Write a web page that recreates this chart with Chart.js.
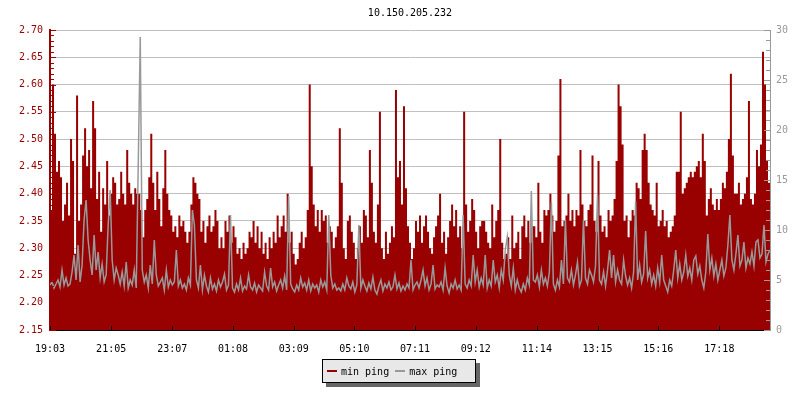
<!DOCTYPE html>
<html>
<head>
<meta charset="utf-8">
<script src="https://cdn.jsdelivr.net/npm/chart.js@4"></script>
<style>
    body { margin: 0; background: #fff; }
    #wrap { position: relative; width: 800px; height: 400px; }
    .legend {
        position: absolute; left: 322px; top: 359px; width: 154px; height: 24px;
        box-sizing: border-box; border: 1px solid #000; background: #e8e8e8;
        box-shadow: 4px 4px 0 #666;
        display: flex; align-items: center; padding-left: 4px;
        font: 10px 'DejaVu Sans Mono', monospace; color: #000; white-space: nowrap;
    }
    .legend i { display: inline-block; width: 10px; height: 2px; margin-right: 4px; }
</style>
</head>
<body>
<div id="wrap">
    <canvas id="chart" width="800" height="400"></canvas>
    <div class="legend"><i style="background:#990000"></i><span>min ping</span><i style="background:#999999;margin-left:6px"></i><span>max ping</span></div>
</div>
<script>
const titleText = '10.150.205.232';
const tickMinutes = [0, 122, 244, 365, 486, 607, 728, 849, 971, 1092, 1213, 1335];
const tickLabels = ['19:03', '21:05', '23:07', '01:08', '03:09', '05:10', '07:11', '09:12', '11:14', '13:15', '15:16', '17:18'];
const sampleMinutes = 4; // one sample every 4 minutes, 19:03 -> 18:59

// min ping (ms), left axis
const minPing = [
    2.37, 2.60, 2.51, 2.44, 2.46, 2.43, 2.35, 2.38, 2.42, 2.36,
    2.50, 2.46, 2.29, 2.58, 2.35, 2.38, 2.47, 2.52, 2.45, 2.48,
    2.41, 2.57, 2.52, 2.39, 2.44, 2.33, 2.41, 2.38, 2.46, 2.36,
    2.40, 2.43, 2.42, 2.38, 2.39, 2.44, 2.40, 2.38, 2.48, 2.42,
    2.40, 2.38, 2.41, 2.40, 2.40, 2.37, 2.32, 2.37, 2.39, 2.43,
    2.51, 2.42, 2.37, 2.44, 2.39, 2.34, 2.41, 2.48, 2.40, 2.37,
    2.36, 2.33, 2.34, 2.32, 2.36, 2.34, 2.35, 2.33, 2.31, 2.33,
    2.38, 2.43,
    2.42, 2.40, 2.39, 2.33, 2.35, 2.31, 2.34, 2.36, 2.33, 2.34,
    2.37, 2.35, 2.30, 2.32, 2.30, 2.35, 2.33, 2.36, 2.31, 2.34,
    2.32, 2.29, 2.30, 2.28, 2.31, 2.29, 2.30, 2.33, 2.32, 2.35,
    2.31, 2.34, 2.30, 2.33, 2.29, 2.31, 2.28, 2.32, 2.30, 2.33,
    2.31, 2.36, 2.32, 2.34, 2.36, 2.33, 2.40, 2.31, 2.33, 2.29,
    2.27, 2.28, 2.31, 2.33, 2.30, 2.32, 2.37, 2.60, 2.45, 2.38,
    2.34, 2.37, 2.33, 2.37, 2.35, 2.36, 2.31, 2.34, 2.33, 2.30,
    2.32, 2.34,
    2.52, 2.42, 2.30, 2.28, 2.35, 2.36, 2.33, 2.31, 2.28, 2.30,
    2.34, 2.31, 2.37, 2.36, 2.32, 2.48, 2.42, 2.33, 2.31, 2.38,
    2.55, 2.30, 2.28, 2.33, 2.29, 2.31, 2.34, 2.32, 2.59, 2.43,
    2.46, 2.38, 2.56, 2.41, 2.34, 2.31, 2.28, 2.30, 2.35, 2.33,
    2.36, 2.31, 2.34, 2.36, 2.33, 2.30, 2.29, 2.32, 2.34, 2.36,
    2.40, 2.31, 2.33, 2.29, 2.32, 2.35, 2.38, 2.34, 2.37, 2.32,
    2.34, 2.30, 2.55, 2.38, 2.33, 2.35, 2.39, 2.37, 2.33, 2.30,
    2.34, 2.35,
    2.35, 2.33, 2.31, 2.30, 2.38, 2.32, 2.35, 2.37, 2.50, 2.31,
    2.28, 2.29, 2.32, 2.28, 2.36, 2.30, 2.31, 2.33, 2.28, 2.34,
    2.36, 2.32, 2.35, 2.31, 2.34, 2.34, 2.32, 2.42, 2.33, 2.31,
    2.37, 2.36, 2.37, 2.40, 2.36, 2.33, 2.35, 2.47, 2.61, 2.34,
    2.35, 2.36, 2.40, 2.35, 2.37, 2.34, 2.37, 2.36, 2.48, 2.38,
    2.35, 2.34, 2.37, 2.38, 2.47, 2.35, 2.33, 2.46, 2.36, 2.33,
    2.34, 2.32, 2.37, 2.35, 2.36, 2.39, 2.46, 2.60, 2.56, 2.49,
    2.35, 2.36,
    2.32, 2.35, 2.37, 2.36, 2.42, 2.41, 2.39, 2.48, 2.51, 2.48,
    2.42, 2.38, 2.37, 2.36, 2.42, 2.34, 2.35, 2.37, 2.34, 2.35,
    2.32, 2.33, 2.34, 2.36, 2.44, 2.44, 2.55, 2.40, 2.41, 2.42,
    2.43, 2.44, 2.43, 2.44, 2.45, 2.46, 2.43, 2.51, 2.46, 2.36,
    2.39, 2.41, 2.38, 2.37, 2.39, 2.37, 2.39, 2.42, 2.41, 2.44,
    2.50, 2.62, 2.47, 2.40, 2.40, 2.42, 2.38, 2.39, 2.40, 2.43,
    2.57, 2.39, 2.38, 2.40, 2.48, 2.45, 2.49, 2.66, 2.60, 2.46,
    2.42, 2.47
];

// max ping (ms), right axis
const maxPing = [
    4.5, 4.8, 4.2, 4.6, 5.0, 4.3, 6.0, 4.5, 5.2, 4.4,
    4.6, 5.8, 7.5, 5.0, 8.5, 4.8, 6.5, 11.0, 13.0, 9.0,
    7.0, 5.5, 9.5, 6.0, 7.8, 5.2, 6.6, 4.8, 5.5, 10.5,
    14.0, 7.0, 5.0, 6.2, 5.5, 4.6, 5.8, 4.4, 6.8, 4.2,
    5.0, 4.5, 6.0, 4.2, 16.5, 29.3, 6.0, 4.8, 5.5, 4.2,
    6.5, 4.6, 9.0, 5.5, 4.4, 4.8, 5.2, 4.0, 6.0, 4.3,
    5.0, 4.5, 4.8, 8.0, 4.4, 5.0, 4.2, 4.6, 4.0, 5.2,
    4.5, 12.0,
    10.5, 5.0, 4.2, 6.5, 4.0, 5.5, 4.4, 3.8, 5.2, 4.1,
    4.6, 3.9, 5.0, 4.3, 4.8, 5.6, 4.0, 4.5, 11.5, 4.2,
    3.8, 4.6, 4.0, 5.2, 3.9, 4.4, 4.1, 5.5, 4.3, 4.0,
    4.7, 3.8, 4.5, 4.2, 3.9, 5.8, 4.4, 4.0, 6.2, 4.3,
    4.8, 3.9, 4.5, 5.0, 4.2, 5.4, 4.0, 13.4, 4.6, 4.1,
    3.8, 4.5, 4.0, 5.2, 4.3, 4.7, 4.0, 5.0, 3.9, 4.6,
    4.2, 4.5, 3.8, 5.0, 4.3, 4.8, 4.0, 11.5, 5.5, 4.2,
    4.6, 4.0,
    4.2, 3.9, 4.6, 4.0, 5.2, 4.4, 4.1, 4.8, 3.8, 4.5,
    10.5, 4.2, 5.0, 4.4, 3.9, 4.7, 4.1, 5.3, 4.0, 3.6,
    4.4, 5.0, 3.9, 4.6, 4.2, 4.8, 4.0, 4.3, 5.5, 4.1,
    4.7, 3.9, 4.4, 4.0, 4.6, 4.2, 7.0, 4.0, 4.5, 4.8,
    4.2, 5.0, 6.0, 4.4, 5.2, 4.0, 4.6, 6.5, 4.1, 4.5,
    4.3, 4.8, 4.0, 6.2, 4.4, 3.7, 4.6, 4.2, 5.0, 4.1,
    4.5, 4.0, 11.5, 4.6, 4.2, 5.0, 4.4, 7.5, 4.8, 6.0,
    4.3, 5.2,
    4.5, 7.5, 4.2, 5.0, 4.4, 7.0, 4.8, 5.5, 4.2, 6.0,
    5.0, 8.0, 9.3, 5.5, 4.4, 6.2, 4.0, 5.0, 4.2, 3.8,
    4.6, 4.0, 5.2, 4.5, 13.9, 5.0, 4.8, 5.5, 4.3, 6.0,
    4.6, 5.2, 4.4, 5.8, 12.8, 4.6, 4.0, 5.0, 4.3, 7.0,
    4.6, 11.0, 5.2, 4.8, 6.0, 4.5, 5.5, 6.8, 4.4, 5.0,
    11.0, 5.2, 4.6, 6.0, 5.5, 4.8, 6.4, 13.5, 5.0, 4.6,
    5.8, 4.4, 6.0, 8.0, 5.2, 7.5, 4.8, 6.0, 5.0, 4.6,
    7.0, 5.4,
    4.5, 5.2, 4.2, 5.8, 12.9, 5.0, 6.5, 4.8, 5.6, 9.9,
    5.2, 6.0, 4.6, 5.5, 4.4, 6.2, 4.8, 7.5, 5.0, 4.4,
    3.8, 5.0, 4.4, 6.0, 8.0, 5.2, 6.6, 5.0, 5.8, 7.5,
    5.4, 6.2, 5.0, 7.0, 7.4, 5.6, 6.4, 5.0, 4.2, 5.8,
    9.6, 6.0, 7.2, 5.4, 6.6, 5.0, 6.0, 7.0, 5.4, 6.2,
    8.5, 11.5, 7.0, 6.0, 7.6, 9.5, 6.4, 7.0, 8.8, 6.2,
    7.2, 6.6, 7.8, 6.4, 8.8, 9.0, 7.2, 7.6, 10.5, 6.8,
    7.6, 8.0
];

const toPoints = values => values.map((v, i) => ({ x: i * sampleMinutes, y: v }));

const mono = "'DejaVu Sans Mono', monospace";
Chart.defaults.font.family = mono;
Chart.defaults.font.size = 10;
Chart.defaults.color = '#000';

// Tick marks inside the plot + title centred over plot area
const axisMarks = {
    id: 'axisMarks',
    afterDatasetsDraw(chart) {
        const { ctx, chartArea: a, scales } = chart;
        ctx.save();
        ctx.lineWidth = 1;
        ctx.strokeStyle = '#990000';
        ctx.beginPath();
        for (let k = 215; k <= 270; k++) {
            const y = Math.round(scales.y.getPixelForValue(k / 100)) + 0.5;
            ctx.moveTo(a.left, y);
            ctx.lineTo(a.left + (k % 5 === 0 ? 6 : 4), y);
        }
        ctx.stroke();
        ctx.strokeStyle = '#999999';
        ctx.beginPath();
        for (let k = 0; k <= 30; k++) {
            const y = Math.round(scales.y2.getPixelForValue(k)) + 0.5;
            ctx.moveTo(a.right, y);
            ctx.lineTo(a.right - (k % 5 === 0 ? 6 : 4), y);
        }
        ctx.stroke();
        ctx.strokeStyle = '#000';
        ctx.beginPath();
        tickMinutes.forEach(m => {
            const x = Math.round(scales.x.getPixelForValue(m)) + 0.5;
            ctx.moveTo(x, a.bottom);
            ctx.lineTo(x, a.bottom - 4);
        });
        ctx.stroke();
        ctx.restore();
    },
    afterDraw(chart) {
        const { ctx, chartArea: a } = chart;
        ctx.save();
        ctx.font = '10px ' + mono;
        ctx.fillStyle = '#000';
        ctx.textAlign = 'center';
        ctx.textBaseline = 'middle';
        ctx.fillText(titleText, (a.left + a.right) / 2, 13);
        ctx.restore();
    }
};

new Chart(document.getElementById('chart'), {
    type: 'line',
    data: {
        datasets: [
            {
                label: 'max ping', data: toPoints(maxPing), yAxisID: 'y2',
                borderColor: '#999999', borderWidth: 1.5, tension: 0,
                fill: false, pointRadius: 0, order: 0
            },
            {
                label: 'min ping', data: toPoints(minPing), yAxisID: 'y',
                borderColor: 'rgba(0,0,0,0)', backgroundColor: '#990000', borderWidth: 1,
                stepped: true, fill: 'start', pointRadius: 0, order: 1
            }
        ]
    },
    options: {
        responsive: false,
        animation: false,
        parsing: false,
        layout: { padding: { top: 30, left: 0, right: 0, bottom: 0 } },
        plugins: { legend: { display: false }, tooltip: { enabled: false } },
        scales: {
            x: {
                type: 'linear', min: 0, max: 1436,
                afterBuildTicks: s => { s.ticks = tickMinutes.map(v => ({ value: v })); },
                afterFit: s => { s.height = 70; },
                ticks: {
                    autoSkip: false, maxRotation: 0, padding: 5, color: '#000',
                    callback: v => tickLabels[tickMinutes.indexOf(v)]
                },
                grid: { display: false },
                border: { color: '#000', width: 2 }
            },
            y: {
                position: 'left', min: 2.15, max: 2.70,
                afterFit: s => { s.width = 50; },
                ticks: { stepSize: 0.05, padding: 7, color: '#990000', callback: v => v.toFixed(2) },
                grid: { color: '#c0c0c0', drawTicks: false },
                border: { color: '#990000', width: 2 }
            },
            y2: {
                position: 'right', min: 0, max: 30,
                afterFit: s => { s.width = 30; },
                ticks: { stepSize: 5, padding: 6, color: '#999999' },
                grid: { drawOnChartArea: false, drawTicks: false },
                border: { color: '#999999', width: 1 }
            }
        }
    },
    plugins: [axisMarks]
});
</script>
</body>
</html>
